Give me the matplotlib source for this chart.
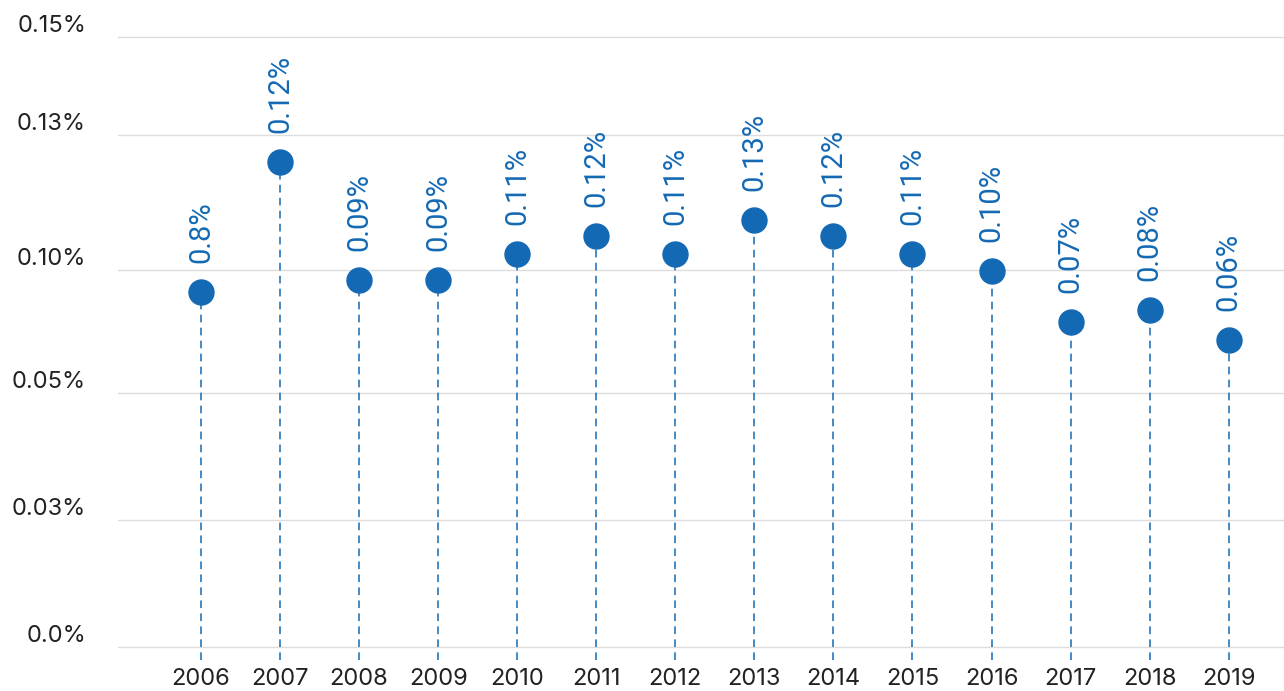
import numpy as np
import matplotlib.pyplot as plt

# データ
years = ["2006", "2007", "2008", "2009", "2010", "2011", "2012",
         "2013", "2014", "2015", "2016", "2017", "2018", "2019"]
values = [0.0699, 0.0955, 0.0722, 0.0722, 0.0774, 0.0809, 0.0774,
          0.0841, 0.0809, 0.0774, 0.0740, 0.0640, 0.0663, 0.0604]
point_labels = ["0.8%", "0.12%", "0.09%", "0.09%", "0.11%", "0.12%", "0.11%",
                "0.13%", "0.12%", "0.11%", "0.10%", "0.07%", "0.08%", "0.06%"]
ytick_vals = [0, 0.025, 0.05, 0.0742, 0.1008, 0.1201]
ytick_labels = ["0.0%", "0.03%", "0.05%", "0.10%", "0.13%", "0.15%"]

blue = "#1469b4"

fig = plt.figure(figsize=(12.84, 6.91), dpi=100)
ax = fig.add_axes([118 / 1284, 31 / 691, 1 - 118 / 1284, 660 / 691])

x = np.arange(len(years))
ymin, ymax = -13 / 5080, 647 / 5080

# 縦の点線
ax.vlines(x, ymin, values, colors=blue, linestyles=(0, (5, 3.5)), linewidth=1.1, zorder=2)
ax.plot(x, values, "o", color=blue, markersize=18, zorder=3)

for xi, v, lab in zip(x, values, point_labels):
    ax.annotate(lab, (xi, v), xytext=(0, 21), textcoords="offset points",
                rotation=90, ha="center", va="bottom", color=blue,
                fontsize=21, family="Roboto")

ax.set_xlim(-1.05, 13.70)
ax.set_ylim(ymin, ymax)

ax.set_yticks(ytick_vals)
ax.set_yticklabels(ytick_labels, fontsize=17, family="Inter", color="#222222")
for t in ax.get_yticklabels():
    t.set_verticalalignment("bottom")
ax.tick_params(axis="y", length=0, pad=23)
ax.yaxis.grid(True, color="#dddddd", linewidth=1)
ax.set_axisbelow(True)

ax.set_xticks(x)
ax.set_xticklabels(years, fontsize=17, family="Inter", color="#222222")
ax.tick_params(axis="x", length=0, pad=6)

for s in ax.spines.values():
    s.set_visible(False)

fig.savefig("out.png", dpi=100)
